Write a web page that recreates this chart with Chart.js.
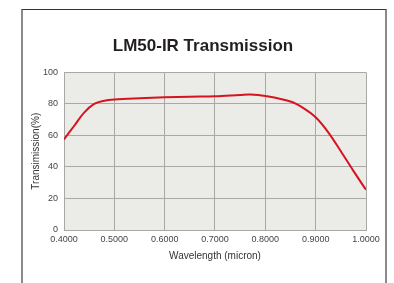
<!DOCTYPE html>
<html>
<head>
<meta charset="utf-8">
<script src="https://cdn.jsdelivr.net/npm/chart.js@4.4.1/dist/chart.umd.min.js"></script>
<style>
    body { margin: 0; background: #fff; }
    #wrap { position: relative; width: 394px; height: 283px; overflow: hidden; }
    #frame {
        position: absolute; left: 21px; top: 9px; width: 362px; height: 300px;
        border-top: 1.5px solid #333; border-left: 2px solid #8a8a8a; border-right: 2px solid #8a8a8a;
    }
    canvas { position: absolute; left: 0; top: 0; }
</style>
</head>
<body>
<div id="wrap">
    <div id="frame"></div>
    <canvas id="chart" width="394" height="283"></canvas>
</div>
<script>
const wavelengths = [0.40, 0.42, 0.44, 0.46, 0.48, 0.50, 0.55, 0.60, 0.65, 0.70, 0.75, 0.77, 0.80, 0.85, 0.875, 0.90, 0.925, 0.95, 0.975, 1.00];
const transmission = [57.5, 66, 74.5, 80, 82, 82.8, 83.6, 84.2, 84.6, 84.8, 85.7, 86, 85, 81.5, 77.5, 71.5, 62, 50, 37.5, 25.5];
const xTicks = [0.4, 0.5, 0.6, 0.7, 0.8, 0.9, 1.0];
const yTicks = [0, 20, 40, 60, 80, 100];

const points = wavelengths.map((w, i) => ({ x: w, y: transmission[i] }));

const plotBg = {
    id: 'plotBg',
    beforeDraw(chart) {
        const a = chart.chartArea;
        const ctx = chart.ctx;
        ctx.save();
        ctx.fillStyle = '#ebebe8';
        ctx.fillRect(a.left, a.top, a.right - a.left, a.bottom - a.top);
        ctx.restore();
    }
};

const font = "'Liberation Sans', Arial, sans-serif";

new Chart(document.getElementById('chart'), {
    type: 'line',
    data: {
        datasets: [{
            data: points,
            borderColor: '#d6141f',
            borderWidth: 2,
            pointRadius: 0,
            tension: 0.35,
            fill: false
        }]
    },
    options: {
        responsive: false,
        animation: false,
        layout: { padding: { left: 40, right: 28, top: 0, bottom: 17 } },
        plugins: {
            legend: { display: false },
            tooltip: { enabled: false },
            title: {
                display: true,
                text: 'LM50-IR Transmission',
                color: '#231f20',
                font: { family: font, size: 17, weight: 'bold' },
                padding: { top: 36, bottom: 16 }
            }
        },
        scales: {
            x: {
                type: 'linear',
                min: 0.4,
                max: 1.0,
                afterFit(scale) { scale.height = 36; },
                afterBuildTicks(scale) { scale.ticks = xTicks.map(v => ({ value: v })); },
                ticks: {
                    color: '#444',
                    font: { family: font, size: 9 },
                    padding: 4,
                    maxRotation: 0,
                    callback: v => v.toFixed(4)
                },
                grid: { color: '#a8a8a8', lineWidth: 1, drawTicks: false },
                border: { color: '#a8a8a8' },
                title: {
                    display: true,
                    text: 'Wavelength (micron)',
                    color: '#333',
                    font: { family: font, size: 10 },
                    padding: { top: 0, bottom: 4 }
                }
            },
            y: {
                min: 0,
                max: 100,
                afterFit(scale) { scale.width = 24; },
                afterBuildTicks(scale) { scale.ticks = yTicks.map(v => ({ value: v })); },
                ticks: {
                    color: '#444',
                    font: { family: font, size: 9 },
                    padding: 6
                },
                grid: { color: '#a8a8a8', lineWidth: 1, drawTicks: false },
                border: { color: '#a8a8a8' },
                title: {
                    display: true,
                    text: 'Transimission(%)',
                    color: '#333',
                    font: { family: font, size: 10 },
                    padding: { top: -10, bottom: 0 }
                }
            }
        }
    },
    plugins: [plotBg]
});
</script>
</body>
</html>
